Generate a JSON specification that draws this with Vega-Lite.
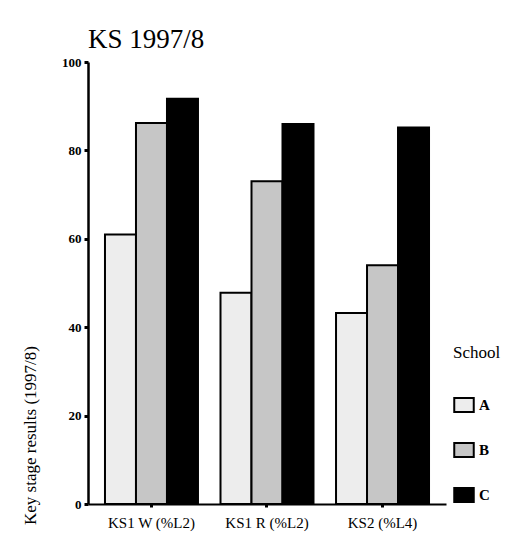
{
  "$schema": "https://vega.github.io/schema/vega-lite/v6.json",
  "autosize": {"type": "none"},
  "width": 358,
  "height": 442,
  "padding": {"left": 88, "top": 62, "right": 66, "bottom": 29},
  "background": "white",
  "title": {
    "text": "KS 1997/8",
    "anchor": "start",
    "frame": "group",
    "font": "Liberation Serif",
    "fontSize": 27,
    "fontWeight": "normal",
    "color": "black",
    "offset": 2
  },
  "data": {
    "values": [
      {"measure": "KS1 W (%L2)", "school": "A", "value": 61},
      {"measure": "KS1 W (%L2)", "school": "B", "value": 86.2},
      {"measure": "KS1 W (%L2)", "school": "C", "value": 91.7},
      {"measure": "KS1 R (%L2)", "school": "A", "value": 47.8},
      {"measure": "KS1 R (%L2)", "school": "B", "value": 73},
      {"measure": "KS1 R (%L2)", "school": "C", "value": 86},
      {"measure": "KS2 (%L4)", "school": "A", "value": 43.2},
      {"measure": "KS2 (%L4)", "school": "B", "value": 54},
      {"measure": "KS2 (%L4)", "school": "C", "value": 85.2}
    ]
  },
  "mark": {"type": "bar", "stroke": "black", "strokeWidth": 2},
  "encoding": {
    "x": {
      "field": "measure",
      "type": "nominal",
      "sort": null,
      "scale": {"paddingInner": 0.195, "paddingOuter": 0.147},
      "axis": {
        "title": null,
        "labelAngle": 0,
        "labelFont": "Liberation Serif",
        "labelFontSize": 15,
        "labelColor": "black",
        "labelPadding": 8,
        "domainColor": "black",
        "domainWidth": 2,
        "tickColor": "black",
        "tickWidth": 3,
        "tickSize": 3
      }
    },
    "xOffset": {"field": "school", "type": "nominal", "scale": {"paddingInner": 0, "paddingOuter": 0}},
    "y": {
      "field": "value",
      "type": "quantitative",
      "scale": {"domain": [0, 100], "nice": false},
      "axis": {
        "values": [0, 20, 40, 60, 80, 100],
        "grid": false,
        "title": "Key stage results (1997/8)",
        "titleFont": "Liberation Serif",
        "titleFontSize": 17,
        "titleFontWeight": "normal",
        "titleColor": "black",
        "titleX": -58,
        "titleY": 373,
        "titleAngle": -90,
        "titleAlign": "center",
        "titleBaseline": "middle",
        "labelFont": "Liberation Serif",
        "labelFontSize": 13,
        "labelFontWeight": "bold",
        "labelColor": "black",
        "labelPadding": 3,
        "domainColor": "black",
        "domainWidth": 2.5,
        "tickColor": "black",
        "tickWidth": 3,
        "tickSize": 4
      }
    },
    "fill": {
      "field": "school",
      "type": "nominal",
      "scale": {"domain": ["A", "B", "C"], "range": ["#ededed", "#c6c6c6", "#000000"]},
      "legend": {
        "title": "School",
        "orient": "none",
        "legendX": 365,
        "legendY": 283,
        "titleFont": "Liberation Serif",
        "titleFontSize": 17,
        "titleFontWeight": "normal",
        "titleColor": "black",
        "titlePadding": 32,
        "labelFont": "Liberation Serif",
        "labelFontSize": 15,
        "labelFontWeight": "bold",
        "labelColor": "black",
        "labelOffset": 4,
        "rowPadding": 21,
        "symbolType": "M-1,-0.72H1V0.72H-1Z",
        "symbolSize": 380,
        "symbolStrokeColor": "black",
        "symbolStrokeWidth": 2,
        "symbolOpacity": 1,
        "offset": 0
      }
    }
  },
  "config": {
    "font": "Liberation Serif",
    "view": {"stroke": null},
    "legend": {"titleFont": "Liberation Serif", "labelFont": "Liberation Serif"}
  }
}
